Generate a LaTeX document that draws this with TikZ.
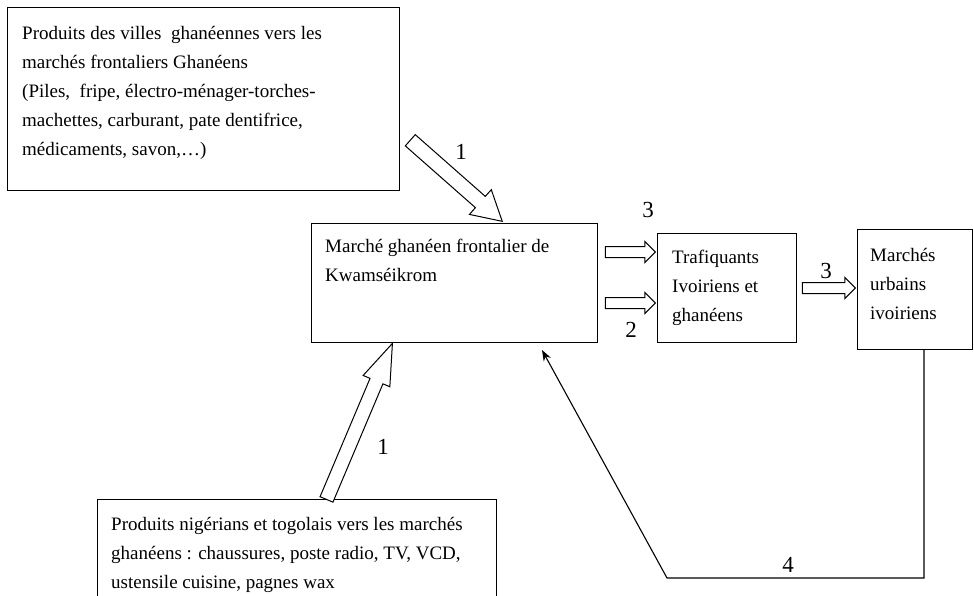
\documentclass[tikz,border=0pt]{standalone}
\usepackage{fontspec}
\setmainfont{Liberation Serif}
\usetikzlibrary{shapes.arrows,arrows.meta,calc}
\begin{document}
\begin{tikzpicture}[x=1pt,y=-1pt,
  box/.style={draw, line width=1.1pt, inner sep=0pt, anchor=north west},
  txt/.style={anchor=north west, inner sep=0pt, align=left, font=\fontsize{19}{29}\selectfont},
  lbl/.style={font=\fontsize{23}{23}\selectfont, inner sep=0pt},
  barrow/.style={single arrow, draw, line width=1pt, fill=white, anchor=tip},
  link/.style={line width=1.1pt, -{Stealth[length=11pt,width=8pt]}}
]
\useasboundingbox (0,0) rectangle (974,596);
\clip (0,0) rectangle (974,596);

% boxes
\node[box, minimum width=392pt, minimum height=183pt] (src1) at (7,7) {};
\node[box, minimum width=286pt, minimum height=119pt] (main) at (311,223) {};
\node[box, minimum width=139pt, minimum height=109pt] (traf) at (657,233) {};
\node[box, minimum width=115pt, minimum height=120pt] (urb) at (857,229) {};
\node[box, minimum width=399pt, minimum height=130pt] (src2) at (97,499) {};

% texts
\node[txt] (t1) at (22,26) {Produits des villes \ ghanéennes vers les\\marchés frontaliers Ghanéens\\(Piles, \ fripe, électro-ménager-torches-\\machettes, carburant, pate dentifrice,\\médicaments, savon,\ldots)};
\node[txt] (t2) at (325,239) {Marché ghanéen frontalier de\\Kwamséikrom};
\node[txt] (t3) at (672,250) {Trafiquants\\Ivoiriens et\\ghanéens};
\node[txt] (t4) at (870,248) {Marchés\\urbains\\ivoiriens};
\node[txt] (t5) at (111,517) {Produits nigérians et togolais vers les marchés\\ghanéens : chaussures, poste radio, TV, VCD,\\ustensile cuisine, pagnes wax};

% block arrows
\node[barrow, rotate=-41.4, minimum height=122.6pt, inner sep=7pt,
      single arrow head extend=9pt, single arrow tip angle=59] (a1) at (503,222) {};
\node[barrow, rotate=67.1, minimum height=169.4pt, inner sep=6.5pt,
      single arrow head extend=7.5pt, single arrow tip angle=39] (a2) at (393,342) {};
\node[barrow, minimum height=50pt, inner sep=5pt,
      single arrow head extend=5pt, single arrow tip angle=90] (a3) at (656,252) {};
\node[barrow, minimum height=50pt, inner sep=5pt,
      single arrow head extend=5pt, single arrow tip angle=90] (a4) at (656,303) {};
\node[barrow, minimum height=53pt, inner sep=5pt,
      single arrow head extend=5pt, single arrow tip angle=90] (a5) at (856,288) {};

% return line
\coordinate (c4) at (667,578);
\coordinate (ret) at (542,350);
\draw[link] ($(urb.south west)+(67,0)$) |- (c4) -- (ret);

% labels
\node[lbl] (l1) at (461,152) {1};
\node[lbl] (l2) at (383,447) {1};
\node[lbl] (l3) at (648,210) {3};
\node[lbl] (l4) at (631,330) {2};
\node[lbl] (l5) at (826,271) {3};
\node[lbl] (l6) at (788,565) {4};
\end{tikzpicture}
\end{document}
